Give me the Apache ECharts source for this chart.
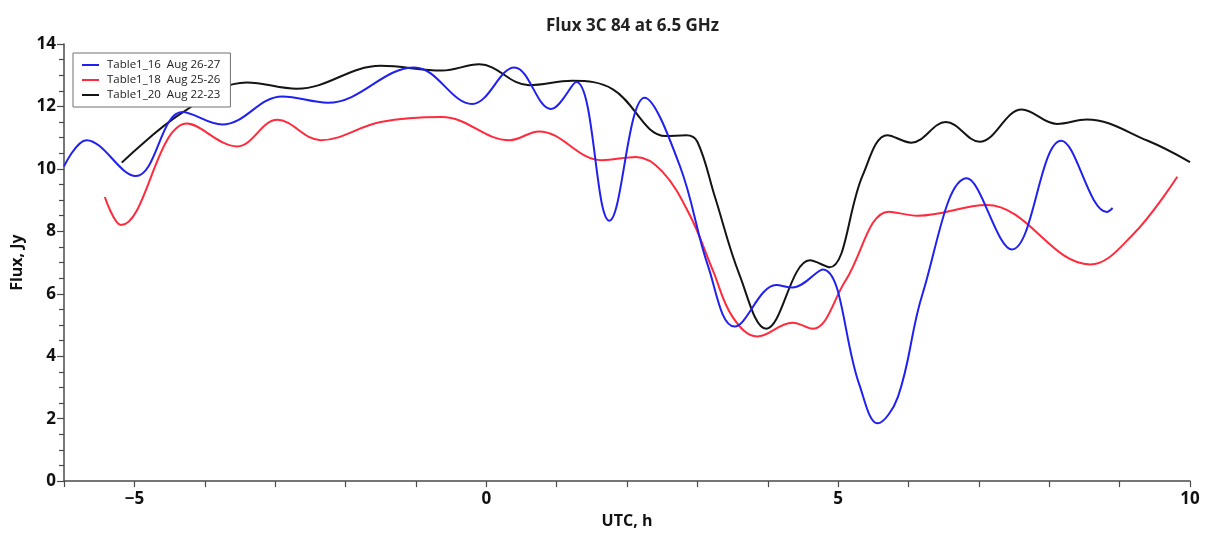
<!DOCTYPE html>
<html>
<head>
<meta charset="utf-8">
<title>Flux 3C 84 at 6.5 GHz</title>
<script src="https://cdn.jsdelivr.net/npm/echarts@6/dist/echarts.min.js"></script>
<style>
  html, body { margin: 0; padding: 0; background: #ffffff; }
  #chart { width: 1208px; height: 534px; }
</style>
</head>
<body>
<div id="chart"></div>
<script>
// Flux of 3C 84 at 6.5 GHz versus UTC hour, three observing sessions.
const seriesNames = ['Table1_16  Aug 26-27', 'Table1_18  Aug 25-26', 'Table1_20  Aug 22-23'];
const seriesColors = ['#2020f0', '#ff2a3c', '#141414'];

// [UTC hour, flux in Jy]
const table16 = [
  [-6.0, 10.08], [-5.68, 10.92], [-4.98, 9.77], [-4.32, 11.82], [-3.75, 11.42], [-2.9, 12.32],
  [-2.25, 12.12], [-1.02, 13.25], [-0.2, 12.08], [0.4, 13.25], [0.92, 11.92], [1.28, 12.78],
  [1.75, 8.34], [2.25, 12.28], [2.75, 10.1], [3.15, 6.9], [3.53, 4.95], [4.12, 6.28],
  [4.35, 6.2], [4.78, 6.78], [5.3, 3.1], [5.56, 1.85], [5.85, 2.7], [6.2, 6.0],
  [6.83, 9.7], [7.47, 7.42], [8.17, 10.9], [8.82, 8.62], [8.9, 8.75]
];

const table18 = [
  [-5.42, 9.1], [-5.19, 8.2], [-4.25, 11.45], [-3.54, 10.72], [-2.97, 11.57], [-2.35, 10.92],
  [-1.5, 11.5], [-0.63, 11.66], [0.33, 10.92], [0.75, 11.2], [1.64, 10.28], [2.13, 10.38],
  [2.5, 9.92], [2.89, 8.53], [3.22, 6.75], [3.5, 5.26], [3.85, 4.63], [4.35, 5.07],
  [4.64, 4.88], [5.1, 6.4], [5.72, 8.63], [6.13, 8.5], [7.11, 8.84], [8.58, 6.94], [9.19, 7.9],
  [9.82, 9.75]
];

const table20 = [
  [-5.18, 10.2], [-4.32, 11.8], [-3.4, 12.77], [-2.69, 12.57], [-1.5, 13.3], [-0.63, 13.15],
  [-0.1, 13.35], [0.61, 12.68], [1.22, 12.82], [1.8, 12.55], [2.55, 11.05], [2.84, 11.08],
  [3.0, 10.87], [3.25, 9.1], [3.6, 6.6], [3.98, 4.88], [4.6, 7.07], [4.88, 6.85],
  [5.35, 9.8], [5.7, 11.08], [6.04, 10.84], [6.53, 11.5], [7.01, 10.87], [7.61, 11.9],
  [8.11, 11.44], [8.53, 11.58], [9.4, 10.9], [10.0, 10.22]
];

const xTickLabels = { '-5': '\u22125', '0': '0', '5': '5', '10': '10' };
const yTickLabels = ['0', '2', '4', '6', '8', '10', '12', '14'];

const FONT = '"Open Sans", "DejaVu Sans", sans-serif';
const AXIS_COLOR = '#4a4a4a';

const chart = echarts.init(document.getElementById('chart'), null, { renderer: 'canvas' });

const lineSeries = [table16, table18, table20].map((data, i) => ({
  name: seriesNames[i],
  type: 'line',
  data: data,
  smooth: 0.38,
  showSymbol: false,
  symbol: 'none',
  lineStyle: { color: seriesColors[i], width: 2 },
  itemStyle: { color: seriesColors[i] },
  z: 3 - i
}));

chart.setOption({
  animation: false,
  backgroundColor: '#ffffff',
  title: {
    text: 'Flux 3C 84 at 6.5 GHz',
    left: 541,
    top: 13,
    textStyle: { fontFamily: FONT, fontWeight: 'bold', fontSize: 17, color: '#222' }
  },
  legend: {
    orient: 'vertical',
    left: 73,
    top: 53,
    padding: [6, 10, 6, 9],
    itemGap: 3,
    itemWidth: 17,
    itemHeight: 2,
    icon: 'rect',
    backgroundColor: '#ffffff',
    borderColor: '#707070',
    borderWidth: 1,
    borderRadius: 0,
    data: seriesNames,
    textStyle: { fontFamily: FONT, fontSize: 11.5, color: '#222', padding: [0, 0, 0, 3] }
  },
  grid: { left: 64, right: 18, top: 44, bottom: 48, containLabel: false },
  xAxis: {
    type: 'value',
    min: -6,
    max: 10,
    interval: 1,
    name: 'UTC, h',
    nameLocation: 'middle',
    nameGap: 30,
    nameTextStyle: { fontFamily: FONT, fontWeight: 'bold', fontSize: 16, color: '#111' },
    axisLine: { show: true, onZero: false, lineStyle: { color: AXIS_COLOR, width: 1.5 } },
    axisTick: { show: true, inside: false, length: 6, lineStyle: { color: AXIS_COLOR, width: 1.2 } },
    axisLabel: {
      fontFamily: FONT, fontWeight: 'bold', fontSize: 17, color: '#111', margin: 10,
      formatter: v => xTickLabels[String(v)] || ''
    },
    splitLine: { show: false }
  },
  yAxis: {
    type: 'value',
    min: 0,
    max: 14,
    interval: 2,
    name: 'Flux, Jy',
    nameLocation: 'middle',
    nameRotate: 90,
    nameGap: 36,
    nameTextStyle: { fontFamily: FONT, fontWeight: 'bold', fontSize: 16, color: '#111' },
    axisLine: { show: true, onZero: false, lineStyle: { color: AXIS_COLOR, width: 1.5 } },
    axisTick: { show: true, inside: false, length: 7, lineStyle: { color: AXIS_COLOR, width: 1.2 } },
    minorTick: { show: true, splitNumber: 4, length: 5, lineStyle: { color: AXIS_COLOR, width: 1.2 } },
    axisLabel: {
      fontFamily: FONT, fontWeight: 'bold', fontSize: 17, color: '#111', margin: 8,
      formatter: v => yTickLabels[Math.round(v / 2)]
    },
    splitLine: { show: false }
  },
  series: lineSeries
});
</script>
</body>
</html>
